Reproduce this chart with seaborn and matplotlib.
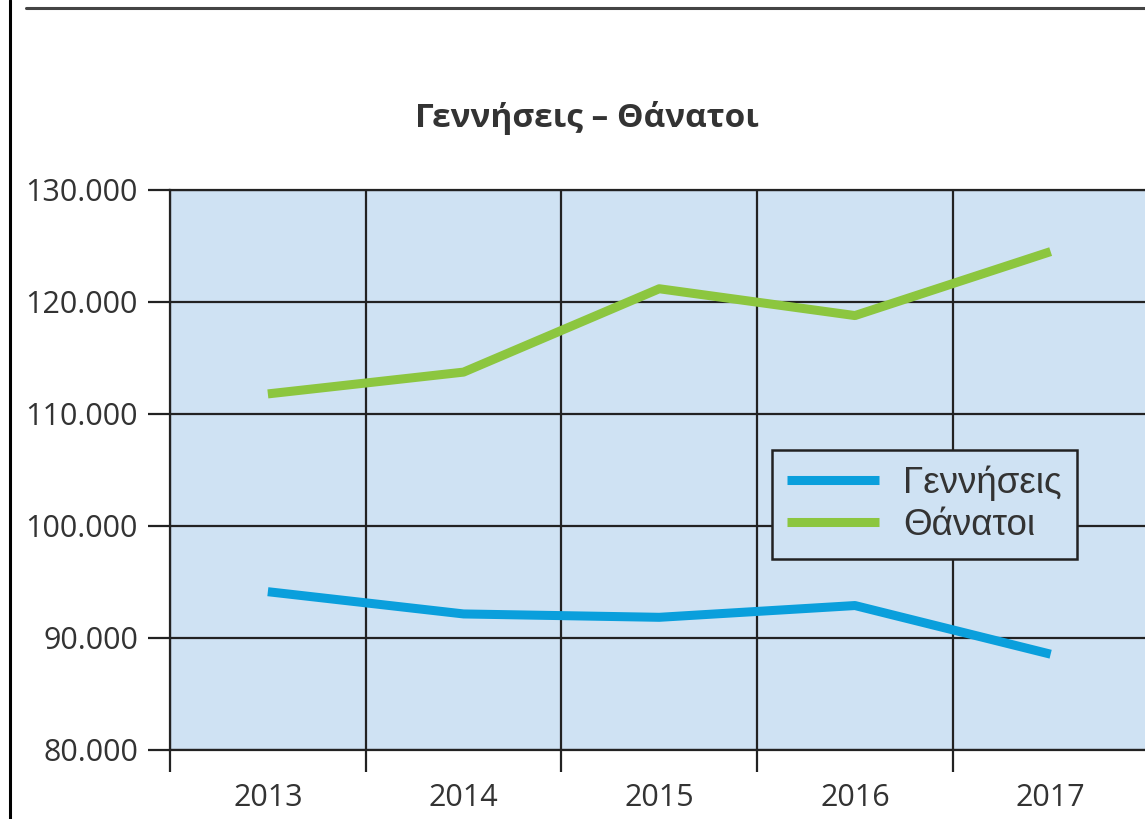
import numpy as np
import pandas as pd
import matplotlib.pyplot as plt
import seaborn as sns
from matplotlib.ticker import FuncFormatter, FixedLocator
from matplotlib.lines import Line2D

# Δεδομένα
years = [2013, 2014, 2015, 2016, 2017]
births = [94134, 92148, 91847, 92898, 88553]
deaths = [111794, 113740, 121183, 118788, 124501]
series_names = ["Γεννήσεις", "Θάνατοι"]
y_ticks = [80000, 90000, 100000, 110000, 120000, 130000]

df = pd.DataFrame({
    "year": years * 2,
    "value": births + deaths,
    "series": [series_names[0]] * len(years) + [series_names[1]] * len(years),
})

sns.set_theme(style="white")
plt.rcParams['font.family'] = ['Open Sans', 'DejaVu Sans']

fig = plt.figure(figsize=(11.45, 8.19), dpi=100)
ax = fig.add_axes([170/1145, 69/819, 978.5/1145, 560/819])
ax.set_facecolor("#cfe2f3")

sns.lineplot(data=df, x="year", y="value", hue="series",
             palette=["#0a9fdc", "#8cc63f"], linewidth=6.5, ax=ax,
             solid_capstyle="butt")

ax.set_xlim(2012.5, 2017.5)
ax.set_ylim(80000, 130000)
ax.set_yticks(y_ticks)
ax.yaxis.set_major_formatter(FuncFormatter(lambda v, p: f"{int(v):,}".replace(",", ".")))
ax.set_xticks(years)
ax.set_xticklabels([str(y) for y in years])
ax.xaxis.set_minor_locator(FixedLocator(np.arange(2012.5, 2018, 1.0)))

ax.grid(True, which="major", axis="y", color="#222222", linewidth=1.6)
ax.grid(True, which="minor", axis="x", color="#222222", linewidth=1.6)
ax.set_axisbelow(True)
for s in ["top", "bottom", "left"]:
    ax.spines[s].set_color("#222222")
    ax.spines[s].set_linewidth(1.6)
ax.spines["right"].set_visible(False)

ax.tick_params(axis="y", which="major", length=16, width=1.6, color="#222222",
               direction="out", pad=7, labelsize=22, labelcolor="#333333", left=True)
ax.tick_params(axis="x", which="major", length=0, pad=24, labelsize=22, labelcolor="#333333")
ax.tick_params(axis="x", which="minor", length=16, width=1.6, color="#222222",
               direction="out", bottom=True)
ax.set_xlabel("")
ax.set_ylabel("")

leg = ax.legend(loc="upper left", bbox_to_anchor=(602/978.5, 300/560), frameon=True,
                prop={"family": ["Liberation Sans", "DejaVu Sans"], "size": 26.5},
                handlelength=2.5, handletextpad=0.65, borderpad=0.42,
                labelspacing=0.2, fancybox=False, borderaxespad=0)
leg.get_frame().set_edgecolor("#222222")
leg.get_frame().set_linewidth(1.8)
leg.get_frame().set_facecolor("#cfe2f3")
leg.get_frame().set_alpha(1)
for t in leg.get_texts():
    t.set_color("#333333")

fig.text(587/1145, 1 - 118/819, "Γεννήσεις – Θάνατοι", ha="center", va="center",
         fontsize=24, fontweight="bold", color="#333333")

# πλαίσιο σελίδας
fig.add_artist(Line2D([10/1145, 10/1145], [0, 1], color="black", linewidth=2.2))
fig.add_artist(Line2D([26/1145, 1], [1 - 8/819, 1 - 8/819], color="#444444", linewidth=2.2))

fig.savefig("out.png", dpi=100)
